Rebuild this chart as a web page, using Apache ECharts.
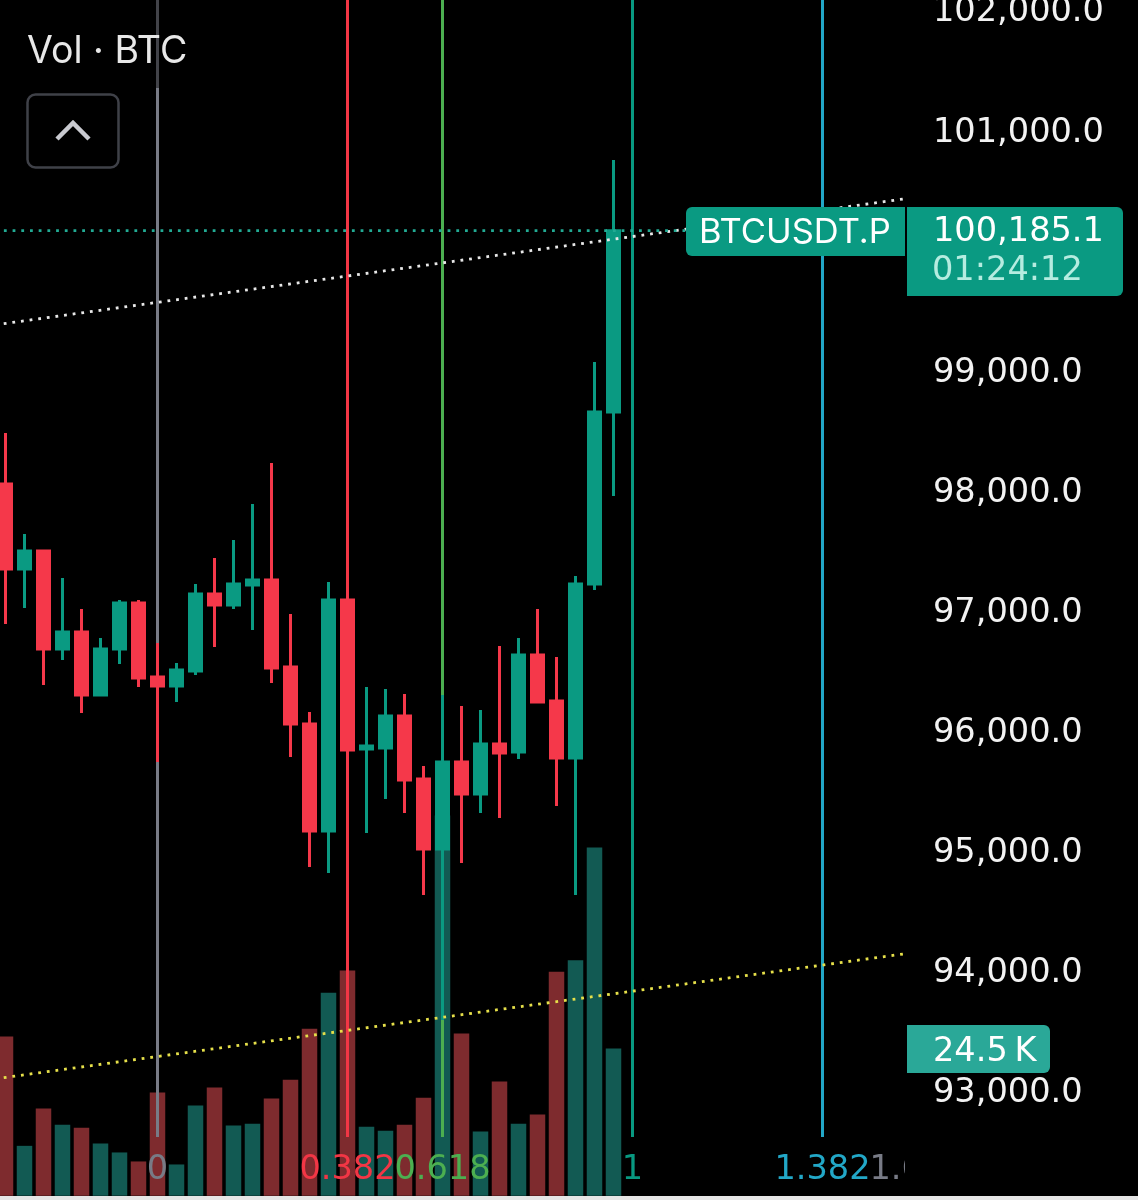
<!DOCTYPE html>
<html>
<head>
<meta charset="utf-8">
<style>html,body{margin:0;padding:0;background:#000;overflow:hidden}#c{width:1138px;height:1200px}</style>
<script src="https://cdn.jsdelivr.net/npm/echarts@6/dist/echarts.min.js"></script>
</head>
<body>
<div id="c"></div>
<script>
// ---- data ----
const opens  = [98076,97368,97518,96702,96844,96319,96702,97085,96469,96394,96519,97160,97068,97235,97277,96552,96078,95187,97110,95869,95878,96144,95620,95037,95761,95495,95911,95844,96652,96269,95794,97243,98675];
const closes = [97368,97518,96702,96844,96319,96702,97085,96461,96394,96527,97160,97068,97243,97277,96544,96078,95187,97110,95861,95894,96144,95611,95037,95761,95495,95911,95836,96652,96261,95794,97243,98675,100185.1];
const lows   = [96910,97043,96402,96610,96169,96311,96577,96386,95761,96261,96486,96719,97035,96860,96419,95803,94887,94837,95445,95170,95453,95337,94654,93613,94920,95337,95295,95786,96252,95395,94654,97193,97976];
const highs  = [98500,97659,97526,97293,97035,96794,97110,97110,96752,96585,97243,97460,97610,97909,98251,96993,96177,97260,97193,96386,96369,96327,95728,96319,96227,96194,96727,96794,97035,96635,97310,99092,100773];
const volumes = [26.5,8.3,14.5,11.8,11.3,8.7,7.2,5.7,17.2,5.2,15,18,11.7,12,16.2,19.3,27.8,33.8,37.5,11.5,10.8,11.8,16.3,63.3,27,10.7,19,12,13.5,37.3,39.2,58,24.5];
const tickValues = [93000,94000,95000,96000,97000,98000,99000,101000,102000];
const fibLabels = ['0','0.382','0.618','1','1.382','1.618'];
const fibSlots  = [9,19,24,34,44,49];
const upperTrend = [[0,99391],[49,100465]];
const lowerTrend = [[0,93113],[49,94179]];
const lastPrice = 100185.1;
const lastPriceLine = [[0,lastPrice],[49,lastPrice]];
const volumeTag = '24.5\u2009K';
const slotCount = 50, leadSlots = 1;

// ---- styling ----
const UP='#0a9a82', DOWN='#f5384a', VOL_UP='#125a53', VOL_DOWN='#7e2b2e';
const fibColors=['#787b86','#f23645','#4caf50','#089981','#22a7c7','#787b86'];
const FONT='"DejaVu Sans"', TXT='Inter';
const fibLineEnd=92639, fibLabelAt=92364;

const categories=Array.from({length:slotCount},(_,i)=>String(i));
const pad=a=>Array(leadSlots).fill('-').concat(a);
const candleData=pad(opens.map((o,i)=>[o,closes[i],lows[i],highs[i]]));
const volData=pad(volumes.map((v,i)=>({value:v,itemStyle:{color:closes[i]>=opens[i]?VOL_UP:VOL_DOWN}})));
const fibData=fibSlots.map((s,i)=>[s,i]);

const dotted=(data,color)=>({type:'line',data,z:5,showSymbol:false,symbol:'none',silent:true,clip:false,animation:false,
  lineStyle:{color,width:2.8,type:[2.8,5.9],cap:'butt'}});

const chart=echarts.init(document.getElementById('c'),null,{renderer:'canvas'});
chart.setOption({
  animation:false,backgroundColor:'#000',
  grid:{left:-23,top:-107.4,width:950,height:1321.1,containLabel:false,outerBoundsMode:'none'},
  xAxis:{type:'category',data:categories,show:false,boundaryGap:true},
  yAxis:[
    {type:'value',position:'right',min:92000,max:103000,interval:1000,z:60,
     splitLine:{show:false},axisLine:{show:false},axisTick:{show:false},
     axisLabel:{show:true,customValues:tickValues,margin:6,color:'#f2f2f2',fontFamily:FONT,fontSize:33.6,padding:[0,0,6,0],
       formatter:v=>v.toLocaleString('en-US',{minimumFractionDigits:1})}},
    {type:'value',min:-3,max:217,show:false,splitLine:{show:false}}
  ],
  series:[
    {type:'bar',yAxisIndex:1,data:volData,barWidth:15.5,z:2,silent:true},
    {type:'custom',z:3,clip:false,silent:true,data:fibData,encode:{x:0},
     renderItem:(p,api)=>{
       const i=api.value(1),x=api.coord([api.value(0),103000])[0];
       const y1=api.coord([0,103000])[1],y2=api.coord([0,fibLineEnd])[1],yt=api.coord([0,fibLabelAt])[1];
       return {type:'group',children:[
         {type:'line',shape:{x1:x,y1,x2:x,y2},style:{stroke:fibColors[i],lineWidth:3}},
         {type:'text',style:{text:fibLabels[i],x,y:yt,align:'center',verticalAlign:'middle',fill:fibColors[i],fontFamily:FONT,fontSize:33.6}}
       ]};
     }},
    {type:'candlestick',data:candleData,barWidth:12.5,z:4,silent:true,clip:false,
     itemStyle:{color:UP,color0:DOWN,borderColor:UP,borderColor0:DOWN,borderWidth:3}},
    dotted(upperTrend,'#e8e8e8'),
    dotted(lowerTrend,'#e6e04a'),
    dotted(lastPriceLine,'#22ab94')
  ],
  graphic:[
    {type:'rect',z:50,silent:true,shape:{x:905,y:0,width:233,height:1200},style:{fill:'#000'}},
    {type:'rect',z:40,silent:true,shape:{x:0,y:0,width:200,height:88},style:{fill:'rgba(0,0,0,0.45)'}},
    {type:'rect',z:90,silent:true,shape:{x:0,y:1196,width:1138,height:4},style:{fill:'#e6e6e6'}},
    {type:'text',z:100,silent:true,style:{text:'Vol · BTC',x:27,y:52,verticalAlign:'middle',fill:'#e8e8e8',fontFamily:TXT,fontSize:37.5}},
    {type:'rect',z:100,silent:true,shape:{x:27.5,y:94.5,width:91,height:73,r:8},style:{fill:'#000',stroke:'#3f4148',lineWidth:2.5}},
    {type:'polyline',z:101,silent:true,shape:{points:[[57,139],[73,123],[89,139]]},style:{fill:'none',stroke:'#c9cad0',lineWidth:4.5}},
    {type:'rect',z:100,silent:true,shape:{x:686,y:207,width:219,height:49,r:[6,0,0,6]},style:{fill:'#0a9a82'}},
    {type:'text',z:101,silent:true,style:{text:'BTCUSDT.P',x:699,y:233,verticalAlign:'middle',fill:'#fff',fontFamily:TXT,fontSize:34.5}},
    {type:'rect',z:100,silent:true,shape:{x:907,y:207,width:216,height:89,r:[0,6,6,0]},style:{fill:'#0a9a82'}},
    {type:'text',z:101,silent:true,style:{text:lastPrice.toLocaleString('en-US'),x:933,y:232,verticalAlign:'middle',fill:'#fff',fontFamily:FONT,fontSize:33.6}},
    {type:'text',z:101,silent:true,style:{text:'01:24:12',x:932,y:271,verticalAlign:'middle',fill:'#b5ece0',fontFamily:FONT,fontSize:33.6}},
    {type:'rect',z:100,silent:true,shape:{x:907,y:1025,width:143,height:48,r:[0,6,6,0]},style:{fill:'#2aa898'}},
    {type:'text',z:101,silent:true,style:{text:volumeTag,x:933,y:1052,verticalAlign:'middle',fill:'#fff',fontFamily:FONT,fontSize:33.6}}
  ]
});
</script>
</body>
</html>
